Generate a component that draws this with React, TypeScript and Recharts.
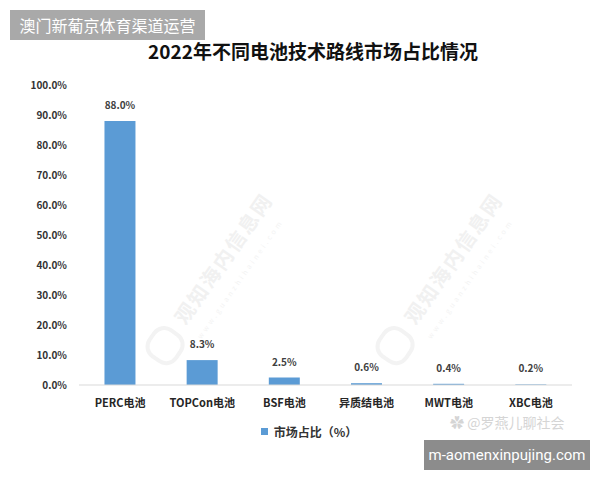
import { Bar, BarChart, LabelList, XAxis, YAxis } from "recharts"

const categories = ["PERC电池", "TOPCon电池", "BSF电池", "异质结电池", "MWT电池", "XBC电池"]
const shares = [88.0, 8.3, 2.5, 0.6, 0.4, 0.2]
const yTicks = [0, 10, 20, 30, 40, 50, 60, 70, 80, 90, 100]

const chartData = categories.map((name, i) => ({ name, share: shares[i] }))

const font = "'Noto Sans CJK SC', 'Noto Sans', sans-serif"
const pct = (v: number) => `${v.toFixed(1)}%`

function Watermark({ x, y }: { x: number; y: number }) {
  return (
    <div style={{ position: "absolute", left: x, top: y, transform: "rotate(-55deg)", transformOrigin: "left top", color: "#f1f1f1", fontFamily: font, fontWeight: 700, fontSize: 20, whiteSpace: "nowrap", letterSpacing: 2 }}>
      <span style={{ display: "inline-block", width: 28, height: 28, borderRadius: 14, border: "4px solid #f3f3f3", marginRight: 10, verticalAlign: "middle" }} />
      观知海内信息网
      <div style={{ fontSize: 7, letterSpacing: 3, marginLeft: 44, fontWeight: 400, color: "#f3f3f3" }}>www.guanzhihainei.com</div>
    </div>
  )
}

export default function App() {
  return (
    <div style={{ position: "fixed", left: 0, top: 0, width: 600, height: 480, background: "#fff", overflow: "hidden" }}>
      <Watermark x={140} y={350} />
      <Watermark x={370} y={350} />
      <div style={{ position: "absolute", left: 0, top: 37, width: 626, textAlign: "center", fontFamily: font, fontWeight: 700, fontSize: 19, color: "#111" }}>
        2022年不同电池技术路线市场占比情况
      </div>
      <div style={{ position: "absolute", left: 0, top: 0 }}>
        <BarChart width={600} height={480} data={chartData} margin={{ top: 85, right: 28, bottom: 65, left: 0 }} barCategoryGap="31%">
          <XAxis dataKey="name" axisLine={{ stroke: "#d9d9d9" }} tickLine={false} tickMargin={8} interval={0}
            tick={{ fill: "#262626", fontSize: 11, fontWeight: 700, fontFamily: font }} />
          <YAxis domain={[0, 100]} ticks={yTicks} tickFormatter={pct} width={79} axisLine={false} tickLine={false} tickMargin={6}
            tick={{ fill: "#333", fontSize: 10, fontWeight: 700, fontFamily: font }} />
          <Bar dataKey="share" fill="#5b9bd5" isAnimationActive={false}>
            <LabelList dataKey="share" position="top" offset={12} formatter={(v: any) => pct(Number(v))}
              style={{ fill: "#404040", fontSize: 10, fontWeight: 700, fontFamily: font }} />
          </Bar>
        </BarChart>
      </div>
      <div style={{ position: "absolute", left: 0, top: 423, width: 618, display: "flex", justifyContent: "center", alignItems: "center", fontFamily: font, fontSize: 12, fontWeight: 700, color: "#333" }}>
        <span style={{ width: 7, height: 7, background: "#5b9bd5", marginRight: 6, display: "inline-block" }} />
        市场占比（%）
      </div>
      <div style={{ position: "absolute", left: 450, top: 413, color: "#d5d5d5", fontFamily: font, fontSize: 14, lineHeight: "18px", whiteSpace: "nowrap" }}>
        ✿ @罗燕儿聊社会
      </div>
      <div style={{ position: "absolute", left: 10, top: 10, width: 195, height: 30, background: "#a9a9a9", color: "#fff", fontFamily: font, fontSize: 16, lineHeight: "30px", textAlign: "center" }}>
        澳门新葡京体育渠道运营
      </div>
      <div style={{ position: "absolute", left: 424, top: 440, width: 166, height: 30, background: "#8c8c8c", color: "#fff", fontFamily: "Roboto, 'Liberation Sans', sans-serif", fontSize: 15, lineHeight: "30px", textAlign: "center", whiteSpace: "nowrap" }}>
        m-aomenxinpujing.com
      </div>
    </div>
  )
}
